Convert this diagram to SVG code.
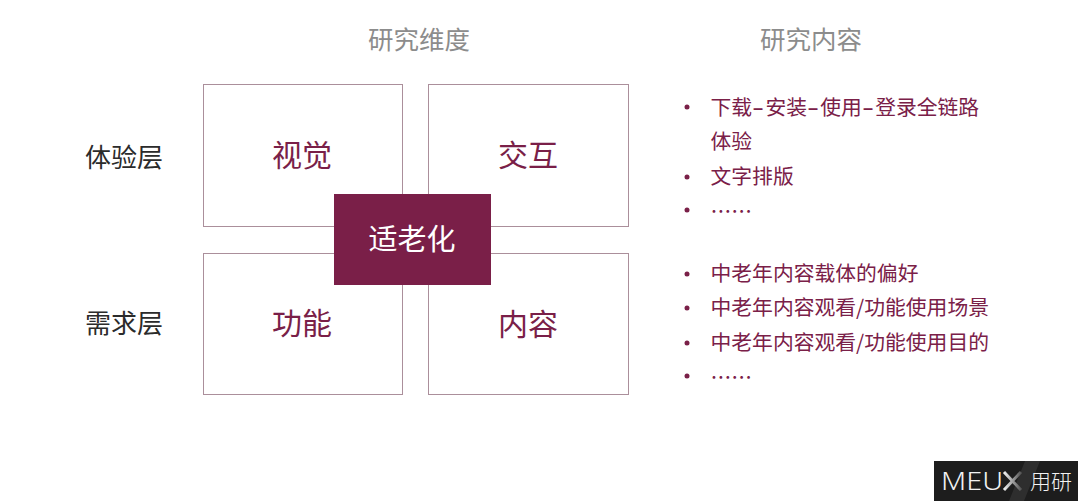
<svg xmlns="http://www.w3.org/2000/svg" width="1080" height="504" viewBox="0 0 1080 504">
<defs>
<linearGradient id="xg" x1="0" y1="0" x2="1" y2="0"><stop offset="0" stop-color="#f0f0f0"/><stop offset="1" stop-color="#555"/></linearGradient>
</defs>
<style>
text{font-family:"Noto Sans CJK SC","Noto Sans",sans-serif;font-weight:400}
.box{fill:#fff;stroke:#ab8f9b;stroke-width:1}
.q{font-size:30px;fill:#7a1f48;text-anchor:middle}
.h{font-size:25.500px;fill:#8c8c8c;text-anchor:middle}
.l{font-size:26px;fill:#2b2b2b;text-anchor:middle}
.i{font-size:20.800px;fill:#7a2048}
.b{fill:#7a2048}
.d{font-size:36px;font-weight:300;letter-spacing:1.300px}
</style>
<rect width="1080" height="504" fill="#fff"/>
<text class="h" x="419" y="49">研究维度</text>
<text class="h" x="811" y="49">研究内容</text>
<text class="l" x="124" y="167">体验层</text>
<text class="l" x="124" y="333">需求层</text>
<g id="node-visual"><rect class="box" x="203.500" y="84.500" width="199" height="142"/><text class="q" x="302" y="166">视觉</text></g>
<g id="node-interact"><rect class="box" x="428.500" y="84.500" width="200" height="142"/><text class="q" x="528" y="166">交互</text></g>
<g id="node-function"><rect class="box" x="203.500" y="253.500" width="199" height="141"/><text class="q" x="302" y="334">功能</text></g>
<g id="node-content"><rect class="box" x="428.500" y="253.500" width="200" height="141"/><text class="q" x="528" y="335">内容</text></g>
<g id="node-center"><rect x="334" y="194" width="157" height="91" fill="#7a1f48"/><text x="412" y="250" font-size="29" fill="#fff" text-anchor="middle">适老化</text></g>
<g id="list-top">
<circle class="b" cx="687" cy="107" r="2.500"/><text class="i" x="710.500" y="115">下载<tspan class="d" dy="4">-</tspan><tspan dy="-4">安装</tspan><tspan class="d" dy="4">-</tspan><tspan dy="-4">使用</tspan><tspan class="d" dy="4">-</tspan><tspan dy="-4">登录全链路</tspan></text>
<text class="i" x="710.500" y="149">体验</text>
<circle class="b" cx="687" cy="177" r="2.500"/><text class="i" x="710.500" y="184">文字排版</text>
<circle class="b" cx="687" cy="210" r="2.500"/><text class="i" x="710.500" y="219">……</text>
</g>
<g id="list-bottom">
<circle class="b" cx="687" cy="274" r="2.500"/><text class="i" x="710.500" y="281">中老年内容载体的偏好</text>
<circle class="b" cx="687" cy="308" r="2.500"/><text class="i" x="710.500" y="315">中老年内容观看/功能使用场景</text>
<circle class="b" cx="687" cy="343" r="2.500"/><text class="i" x="710.500" y="350">中老年内容观看/功能使用目的</text>
<circle class="b" cx="687" cy="376" r="2.500"/><text class="i" x="710.500" y="385">……</text>
</g>
<g id="logo">
<rect x="934" y="461" width="144" height="40" fill="#1d1d1d"/>
<polygon points="1025,461 1040,461 1024,501 1009,501" fill="#2e2e2e"/>
<text x="941" y="490" font-size="25" fill="#f2f2f2" textLength="62" lengthAdjust="spacingAndGlyphs" style="font-family:'Noto Sans',sans-serif;font-weight:300">MEU</text>
<path d="M1004 472L1021 490M1021 472L1004 490" stroke="url(#xg)" stroke-width="3" fill="none"/>
<text x="1030" y="489" font-size="21" fill="#f2f2f2" style="font-weight:300">用研</text>
</g>
</svg>
